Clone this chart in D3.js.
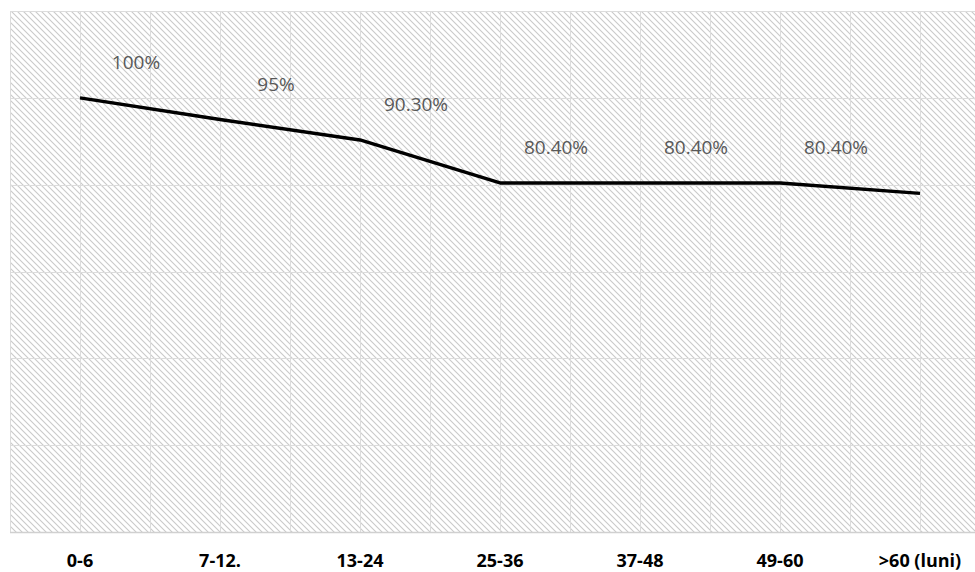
<!DOCTYPE html>
<html>
<head>
<meta charset="utf-8">
<script src="https://cdn.jsdelivr.net/npm/d3@7"></script>
<style>
  body { margin: 0; background: #fff; }
  svg { display: block; }
</style>
</head>
<body>
<div id="chart"></div>
<script>
// chart data
const categories = ["0-6", "7-12.", "13-24", "25-36", "37-48", "49-60", ">60 (luni)"];
const values = [100, 95, 90.3, 80.4, 80.4, 80.4, 78];
const labels = ["100%", "95%", "90.30%", "80.40%", "80.40%", "80.40%", ""];
const yTicks = [0, 20, 40, 60, 80, 100, 120];

const width = 975, height = 572;
const plot = { left: 10, right: 990, top: 11, bottom: 532 };

const svg = d3.select("#chart").append("svg")
  .attr("width", width)
  .attr("height", height);

// diagonal hatch fill of the plot area
const defs = svg.append("defs");
const pat = defs.append("pattern")
  .attr("id", "hatch")
  .attr("patternUnits", "userSpaceOnUse")
  .attr("width", 6)
  .attr("height", 6);
pat.append("rect").attr("width", 6).attr("height", 6).attr("fill", "#fff");
pat.append("path")
  .attr("d", "M0,0 L6,6 M-1,5 L1,7 M5,-1 L7,1")
  .attr("stroke", "#cacaca")
  .attr("stroke-width", 1.1);

const x = d3.scaleBand().domain(categories).range([plot.left, plot.right]).padding(0);
const y = d3.scaleLinear().domain([0, 120]).range([plot.bottom, plot.top]);
const cx = d => x(d) + x.bandwidth() / 2;

svg.append("rect")
  .attr("x", plot.left)
  .attr("y", plot.top)
  .attr("width", plot.right - plot.left)
  .attr("height", plot.bottom - plot.top)
  .attr("fill", "url(#hatch)");

// gridlines: horizontal at ticks, vertical at band edges and centers
const grid = svg.append("g").attr("stroke", "#dcdcdc").attr("stroke-width", 1);
grid.selectAll(".h").data(yTicks).enter().append("line")
  .attr("x1", plot.left).attr("x2", plot.right)
  .attr("y1", d => Math.round(y(d)) + 0.5).attr("y2", d => Math.round(y(d)) + 0.5);

const vx = [];
categories.forEach(c => { vx.push(x(c)); vx.push(cx(c)); });
vx.push(plot.right);
grid.selectAll(".v").data(vx).enter().append("line")
  .attr("x1", d => Math.round(d) + 0.5).attr("x2", d => Math.round(d) + 0.5)
  .attr("y1", plot.top).attr("y2", plot.bottom);

// bottom axis line
svg.append("line")
  .attr("x1", plot.left).attr("x2", plot.right)
  .attr("y1", y(0) + 0.5).attr("y2", y(0) + 0.5)
  .attr("stroke", "#d0d0d0").attr("stroke-width", 1.5);

// line
const pts = categories.map((c, i) => [cx(c), y(values[i])]);
svg.append("path")
  .datum(pts)
  .attr("d", d3.line())
  .attr("fill", "none")
  .attr("stroke", "#000")
  .attr("stroke-width", 3.4)
  .attr("stroke-linejoin", "round");

// data labels
svg.append("g").selectAll("text")
  .data(categories)
  .enter().append("text")
  .attr("x", (d, i) => cx(d) + 56)
  .attr("y", (d, i) => y(values[i]) - 29)
  .attr("text-anchor", "middle")
  .attr("font-family", "Open Sans, sans-serif")
  .attr("font-size", 19)
  .attr("fill", "#595959")
  .text((d, i) => labels[i]);

// category labels
svg.append("g").selectAll("text")
  .data(categories)
  .enter().append("text")
  .attr("x", d => cx(d))
  .attr("y", 567)
  .attr("text-anchor", "middle")
  .attr("font-family", "Open Sans, sans-serif")
  .attr("font-weight", "bold")
  .attr("font-size", 18)
  .attr("fill", "#000")
  .text(d => d);
</script>
</body>
</html>
